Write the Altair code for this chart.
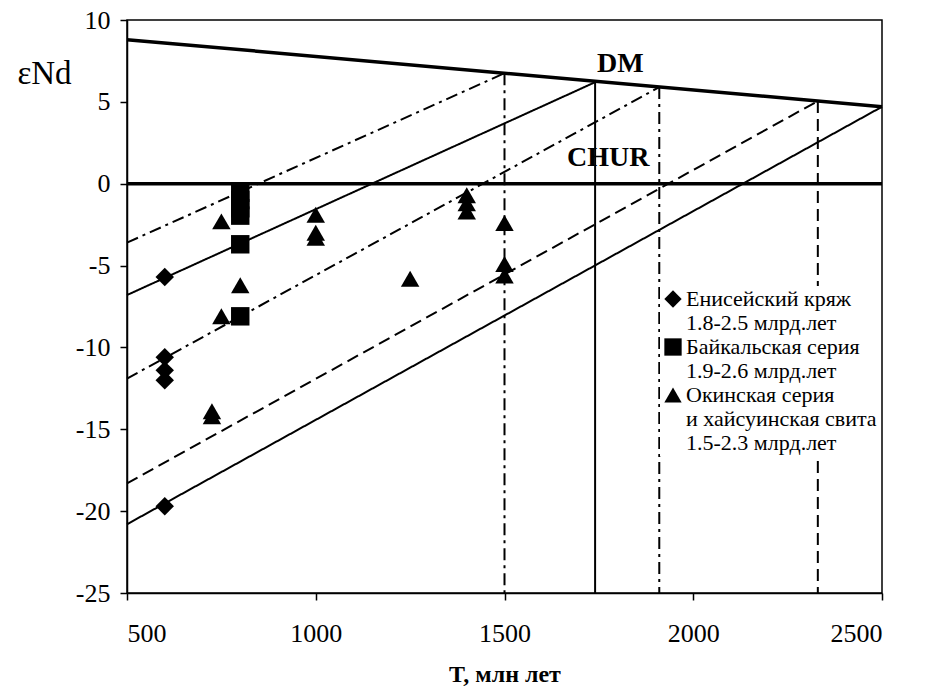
import altair as alt
import pandas as pd

# ---- data ----
series_names = ["Енисейский кряж|1.8-2.5 млрд.лет",
                "Байкальская серия|1.9-2.6 млрд.лет",
                "Окинская серия|и хайсуинская свита|1.5-2.3 млрд.лет"]

T_yen = [600, 600, 600, 600, 600]
E_yen = [-5.7, -10.6, -11.4, -12.0, -19.7]

T_baik = [800, 800, 800, 800, 800, 800]
E_baik = [-0.55, -1.0, -1.5, -1.95, -3.7, -8.1]

T_oka = [750, 800, 750, 725, 725, 1000, 1000, 1000, 1250, 1400, 1400, 1400, 1500, 1500, 1500]
E_oka = [-2.3, -6.2, -8.1, -13.9, -14.2, -1.9, -3.0, -3.3, -5.8, -0.7, -1.2, -1.7, -2.4, -4.9, -5.6]

# depleted mantle and CHUR reference lines
DM_T = [500, 2500]
DM_E = [8.8, 4.7]
CHUR_T = [500, 2500]
CHUR_E = [0, 0]

# evolution lines: from T=500 back to model age on DM line
line_ids = ["a", "b", "c", "d", "e"]
model_age = [1500, 1740, 1910, 2330, 2500]
eps_at_age = [6.75, 6.2, 5.9, 5.05, 4.7]
start_T = [500, 500, 500, 500, 500]
eps_at_start = [-3.6, -6.8, -11.9, -18.3, -20.8]
axis_bottom = -25

label_text = ["DM", "CHUR"]
label_T = [1807, 1775]
label_E = [7.3, 1.6]

# ---- tables ----
pts = pd.DataFrame({
    "T": T_yen + T_baik + T_oka,
    "E": E_yen + E_baik + E_oka,
    "series": [series_names[0]] * len(T_yen) + [series_names[1]] * len(T_baik) + [series_names[2]] * len(T_oka),
})

evo_rows = []
for i, lid in enumerate(line_ids):
    evo_rows.append({"id": lid, "T": start_T[i], "E": eps_at_start[i]})
    evo_rows.append({"id": lid, "T": model_age[i], "E": eps_at_age[i]})
evo = pd.DataFrame(evo_rows)

verts = pd.DataFrame({"id": line_ids[:4], "T": model_age[:4], "E": eps_at_age[:4],
                      "E2": [axis_bottom] * 4})
dm = pd.DataFrame({"T": DM_T, "E": DM_E})
chur = pd.DataFrame({"T": CHUR_T, "E": CHUR_E})
labels = pd.DataFrame({"text": label_text, "T": label_T, "E": label_E})

FONT = "Liberation Serif"
xs = alt.Scale(domain=[500, 2500], nice=False, zero=False)
ys = alt.Scale(domain=[-25, 10], nice=False, zero=False)

dash_scale = alt.Scale(domain=line_ids,
                       range=[[12, 5, 3, 5], [1, 0], [12, 5, 3, 5], [12, 6], [1, 0]])

x_enc = alt.X("T:Q", scale=xs, axis=alt.Axis(
    values=[500, 1000, 1500, 2000, 2500], labelExpr="toString(datum.value)", title="T, млн лет",
    titleFont=FONT, titleFontSize=24, titleFontWeight="bold", titleColor="black",
    titleY=81, titleBaseline="middle", labelPadding=20))
y_enc = alt.Y("E:Q", scale=ys, axis=alt.Axis(
    values=[-25, -20, -15, -10, -5, 0, 5, 10], labelExpr="toString(datum.value)", title="εNd",
    titleAngle=0, titleX=-83, titleY=53, titleAlign="center", titleBaseline="middle",
    titleFont=FONT, titleFontSize=33, titleFontWeight="normal", titleColor="black",
    labelPadding=10))

points = alt.Chart(pts).mark_point(filled=True, color="black", opacity=1, size=340).encode(
    x=x_enc, y=y_enc,
    shape=alt.Shape("series:N", scale=alt.Scale(domain=series_names,
                                                 range=["diamond", "square", "triangle-up"]),
                    legend=alt.Legend(orient="none", legendX=533, legendY=266, title=None,
                                      labelFont=FONT, labelFontSize=22, labelColor="black",
                                      labelLimit=0, labelExpr="split(datum.label, '|')",
                                      fillColor="white", padding=2, rowPadding=2,
                                      labelOffset=2, symbolSize=300,
                                      symbolFillColor="black", symbolStrokeWidth=0)),
)

evo_lines = alt.Chart(evo).mark_line(color="black", strokeWidth=2).encode(
    x="T:Q", y="E:Q", detail="id:N",
    strokeDash=alt.StrokeDash("id:N", scale=dash_scale, legend=None))

vert_rules = alt.Chart(verts).mark_rule(color="black", strokeWidth=2).encode(
    x="T:Q", y="E:Q", y2="E2:Q",
    strokeDash=alt.StrokeDash("id:N", scale=dash_scale, legend=None))

dm_line = alt.Chart(dm).mark_line(color="black", strokeWidth=3.5).encode(x="T:Q", y="E:Q")
chur_line = alt.Chart(chur).mark_line(color="black", strokeWidth=3.5).encode(x="T:Q", y="E:Q")

text = alt.Chart(labels).mark_text(font=FONT, fontSize=28, fontWeight="bold", color="black").encode(
    x="T:Q", y="E:Q", text="text:N")

chart = alt.layer(points, evo_lines, vert_rules, dm_line, chur_line, text).properties(
    width=755, height=573,
    autosize=alt.AutoSizeParams(type="none"),
    padding={"left": 127, "top": 20, "right": 46, "bottom": 98},
    background="white",
).configure_view(stroke="black", strokeWidth=1.5).configure_axis(
    grid=False, domainColor="black", domainWidth=1.5, tickColor="black", tickWidth=1.5,
    tickSize=7, labelFont=FONT, labelFontSize=26, labelColor="black",
)

chart.save("out.html", embed_options={"renderer": "svg", "actions": False})
